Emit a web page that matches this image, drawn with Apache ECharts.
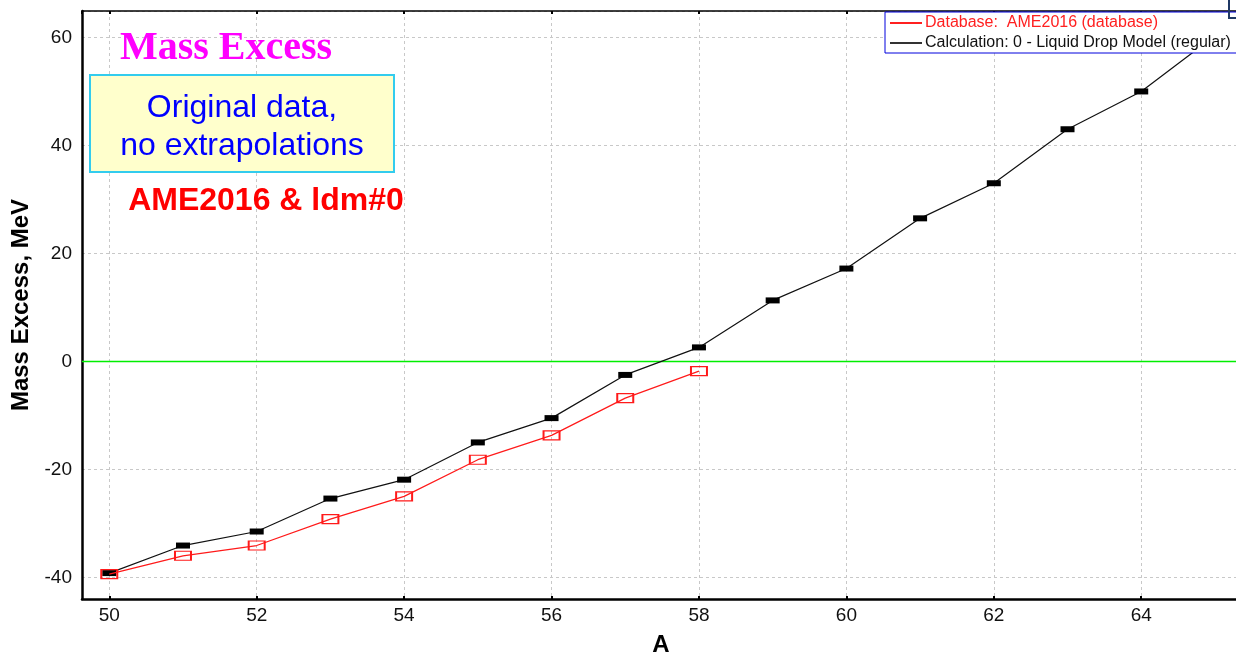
<!DOCTYPE html>
<html>
<head>
<meta charset="utf-8">
<script src="https://cdn.jsdelivr.net/npm/echarts@6/dist/echarts.min.js"></script>
<style>
  html, body { margin: 0; padding: 0; background: #ffffff; }
  #chart { width: 1236px; height: 658px; }
</style>
</head>
<body>
<div id="chart"></div>
<script>
// Mass numbers along the isotopic chain
const massNumbers = [50, 51, 52, 53, 54, 55, 56, 57, 58, 59, 60, 61, 62, 63, 64, 65];
// Liquid drop model (ldm#0) mass excess, MeV
const ldmValues = [-39.2, -34.1, -31.5, -25.4, -21.9, -15.0, -10.5, -2.5, 2.6, 11.3, 17.2, 26.5, 33.0, 43.0, 50.0, 60.3];
// AME2016 evaluated mass excess, MeV (measured nuclei only)
const ameValues = [-39.4, -36.0, -34.1, -29.2, -25.0, -18.2, -13.7, -6.8, -1.8];

const seriesNames = ['Database:  AME2016 (database)', 'Calculation: 0 - Liquid Drop Model (regular)'];
const xRange = [49.63, 65.34];
const yRange = [-44.0, 64.9];
const zeroLevel = 0;

const ldmData = ldmValues.map((v, i) => [massNumbers[i], v]);
const ameData = ameValues.map((v, i) => [massNumbers[i], v]);
// horizontal reference at zero mass excess, spanning the whole A axis
const zeroData = xRange.map(a => [a, zeroLevel]);

const SANS = '"Liberation Sans", Arial, sans-serif';
const SERIF = '"Liberation Serif", "Times New Roman", serif';
const gridLine = { show: true, lineStyle: { color: '#c8c8c8', width: 1, type: [3, 3] } };

const chart = echarts.init(document.getElementById('chart'), null, { renderer: 'canvas' });
chart.setOption({
  animation: false,
  backgroundColor: '#ffffff',
  grid: { left: 82, right: -4, top: 11, bottom: 59, containLabel: false, outerBoundsMode: 'none' },
  legend: {
    orient: 'vertical',
    left: 885,
    top: 12,
    padding: [3, 8, 2, 5],
    itemGap: 4,
    itemWidth: 32,
    itemHeight: 2,
    icon: 'rect',
    selectedMode: false,
    backgroundColor: '#ffffff',
    borderColor: '#0000dd',
    borderWidth: 1,
    textStyle: { fontFamily: SANS, fontSize: 16, padding: [0, 0, 0, -2] },
    data: [
      { name: seriesNames[0], itemStyle: { color: '#ff2020', borderWidth: 0 }, textStyle: { color: '#ff2020' } },
      { name: seriesNames[1], itemStyle: { color: '#333333', borderWidth: 0 }, textStyle: { color: '#111111' } }
    ],
    z: 10
  },
  xAxis: [
    {
      type: 'value',
      position: 'bottom',
      min: xRange[0],
      max: xRange[1],
      minInterval: 2,
      maxInterval: 2,
      name: 'A',
      nameLocation: 'middle',
      nameGap: 34,
      nameTextStyle: { fontFamily: SANS, fontSize: 24, fontWeight: 'bold', color: '#000' },
      axisLine: { show: true, onZero: false, lineStyle: { color: '#000', width: 2.5 } },
      axisTick: { show: true, inside: true, length: 3, lineStyle: { color: '#000', width: 2 } },
      axisLabel: { fontFamily: SANS, fontSize: 19, color: '#111', margin: 7, showMinLabel: false, showMaxLabel: false },
      splitLine: gridLine
    },
    {
      type: 'value',
      position: 'top',
      min: xRange[0],
      max: xRange[1],
      minInterval: 2,
      maxInterval: 2,
      axisLine: { show: true, onZero: false, lineStyle: { color: '#000', width: 1.5 } },
      axisTick: { show: true, inside: true, length: 3, lineStyle: { color: '#000', width: 2 } },
      axisLabel: { show: false },
      splitLine: { show: false }
    }
  ],
  yAxis: {
    type: 'value',
    min: yRange[0],
    max: yRange[1],
    minInterval: 20,
    maxInterval: 20,
    name: 'Mass Excess, MeV',
    nameLocation: 'middle',
    nameGap: 48,
    nameTextStyle: { fontFamily: SANS, fontSize: 24, fontWeight: 'bold', color: '#000' },
    axisLine: { show: true, onZero: false, lineStyle: { color: '#000', width: 2.5 } },
    axisTick: { show: false },
    axisLabel: { fontFamily: SANS, fontSize: 19, color: '#111', margin: 10, showMinLabel: false, showMaxLabel: false },
    splitLine: gridLine
  },
  series: [
    {
      name: 'zero',
      type: 'line',
      data: zeroData,
      xAxisIndex: 0,
      silent: true,
      symbol: 'none',
      lineStyle: { color: '#00ee00', width: 1.5 },
      itemStyle: { color: '#00ee00' },
      emphasis: { disabled: true },
      z: 2
    },
    {
      name: seriesNames[1],
      type: 'line',
      data: ldmData,
      xAxisIndex: 0,
      showAllSymbol: true,
      symbol: 'rect',
      symbolSize: [14, 6],
      lineStyle: { color: '#111111', width: 1.2 },
      itemStyle: { color: '#000000' },
      emphasis: { disabled: true },
      z: 3
    },
    {
      name: seriesNames[0],
      type: 'line',
      data: ameData,
      xAxisIndex: 0,
      showAllSymbol: true,
      symbol: 'rect',
      symbolSize: [16, 9],
      lineStyle: { color: '#ff1a1a', width: 1.2 },
      itemStyle: { color: 'rgba(255,255,255,0)', borderColor: '#ff1a1a', borderWidth: 1.5 },
      emphasis: { disabled: true },
      z: 4
    }
  ],
  graphic: [
    {
      type: 'text', x: 226, y: 49, z: 20,
      style: { text: 'Mass Excess', font: 'bold 40px ' + SERIF, fill: '#ff00ff', align: 'center', verticalAlign: 'middle' }
    },
    {
      type: 'rect', x: 90, y: 75, z: 19,
      shape: { width: 304, height: 97 },
      style: { fill: '#ffffcc', stroke: '#33ccee', lineWidth: 2 }
    },
    {
      type: 'text', x: 242, y: 127, z: 20,
      style: { text: 'Original data,\nno extrapolations', font: '32px ' + SANS, fill: '#0000ff', align: 'center', verticalAlign: 'middle', lineHeight: 38 }
    },
    {
      type: 'text', x: 266, y: 201, z: 20,
      style: { text: 'AME2016 & ldm#0', font: 'bold 32px ' + SANS, fill: '#ff0000', align: 'center', verticalAlign: 'middle' }
    },
    {
      type: 'polyline', z: 20,
      shape: { points: [[1229, 0], [1229, 18], [1237, 18]] },
      style: { stroke: '#1f3864', lineWidth: 2, fill: null }
    }
  ]
});
</script>
</body>
</html>
